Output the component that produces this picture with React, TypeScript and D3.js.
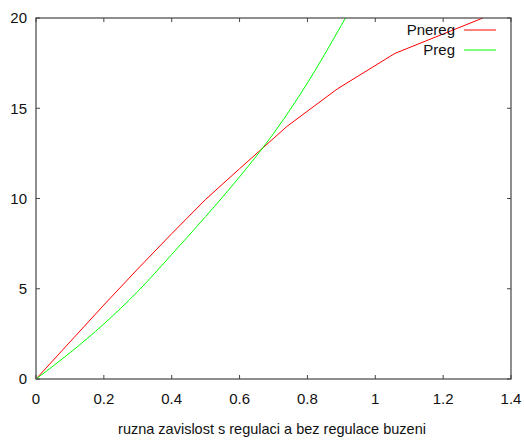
import React, { useEffect, useRef } from "react";
import * as d3 from "d3";

// Pnereg (bez regulace) - piecewise linear
const pneregX = [0, 0.1, 0.2, 0.3, 0.4, 0.5, 0.6, 0.74, 0.888, 1.058, 1.317];
const pneregY = [0, 2.05, 4.1, 6.1, 8.05, 9.95, 11.65, 14, 16.07, 18.04, 20];

// Preg (s regulaci) - smooth curve
const pregX = [0, 0.1, 0.2, 0.3, 0.4, 0.5, 0.6, 0.7, 0.8, 0.9, 0.93];
const pregY = [0, 1.45, 3.05, 4.85, 6.9, 9.0, 11.2, 13.6, 16.4, 19.6, 20.6];

const xTicks = [0, 0.2, 0.4, 0.6, 0.8, 1, 1.2, 1.4];
const yTicks = [0, 5, 10, 15, 20];

const seriesNames = ["Pnereg", "Preg"];
const seriesColors = ["#ff0000", "#00ff00"];

const xTitle = "ruzna zavislost s regulaci a bez regulace buzeni";

const App = () => {
  const svgRef = useRef<SVGSVGElement>(null);

  useEffect(() => {
    const svg = d3.select(svgRef.current);
    svg.selectAll("*").remove();

    const left = 36;
    const right = 511;
    const top = 18;
    const bottom = 379;
    const font = "'Liberation Sans', Arial, sans-serif";
    const axisColor = "#444";

    const x = d3.scaleLinear().domain([0, 1.4]).range([left, right]);
    const y = d3.scaleLinear().domain([0, 20]).range([bottom, top]);

    svg
      .append("defs")
      .append("clipPath")
      .attr("id", "plotclip")
      .append("rect")
      .attr("x", left)
      .attr("y", top)
      .attr("width", right - left)
      .attr("height", bottom - top);

    // ticks (inward, mirrored like gnuplot)
    const ticks = svg.append("g").attr("stroke", axisColor).attr("stroke-width", 1);
    xTicks.forEach((t) => {
      ticks.append("line").attr("x1", x(t)).attr("x2", x(t)).attr("y1", bottom).attr("y2", bottom - 4);
      ticks.append("line").attr("x1", x(t)).attr("x2", x(t)).attr("y1", top).attr("y2", top + 4);
    });
    yTicks.forEach((t) => {
      ticks.append("line").attr("x1", left).attr("x2", left + 4).attr("y1", y(t)).attr("y2", y(t));
      ticks.append("line").attr("x1", right).attr("x2", right - 4).attr("y1", y(t)).attr("y2", y(t));
    });

    // tick labels
    svg
      .append("g")
      .selectAll("text")
      .data(xTicks)
      .enter()
      .append("text")
      .attr("x", (d) => x(d))
      .attr("y", 399)
      .attr("dy", "0.35em")
      .attr("text-anchor", "middle")
      .attr("font-family", font)
      .attr("font-size", 15)
      .attr("fill", "#111")
      .text((d) => d3.format("~g")(d));

    svg
      .append("g")
      .selectAll("text")
      .data(yTicks)
      .enter()
      .append("text")
      .attr("x", 27)
      .attr("y", (d) => y(d))
      .attr("dy", "0.35em")
      .attr("text-anchor", "end")
      .attr("font-family", font)
      .attr("font-size", 15)
      .attr("fill", "#111")
      .text((d) => String(d));

    svg
      .append("text")
      .attr("x", 272)
      .attr("y", 429)
      .attr("dy", "0.35em")
      .attr("text-anchor", "middle")
      .attr("font-family", font)
      .attr("font-size", 14.5)
      .attr("fill", "#111")
      .text(xTitle);

    // lines
    const plot = svg.append("g").attr("clip-path", "url(#plotclip)");

    const pnereg = pneregX.map((v, i) => [v, pneregY[i]] as [number, number]);
    const preg = pregX.map((v, i) => [v, pregY[i]] as [number, number]);

    const linear = d3
      .line<[number, number]>()
      .x((d) => x(d[0]))
      .y((d) => y(d[1]));
    const smooth = d3
      .line<[number, number]>()
      .x((d) => x(d[0]))
      .y((d) => y(d[1]))
      .curve(d3.curveMonotoneX);

    plot
      .append("path")
      .attr("d", linear(pnereg))
      .attr("fill", "none")
      .attr("stroke", seriesColors[0])
      .attr("stroke-width", 1);

    plot
      .append("path")
      .attr("d", smooth(preg))
      .attr("fill", "none")
      .attr("stroke", seriesColors[1])
      .attr("stroke-width", 1);

    // legend
    const legend = svg.append("g");
    seriesNames.forEach((name, i) => {
      const ly = 30 + i * 20;
      legend
        .append("text")
        .attr("x", 455)
        .attr("y", ly)
        .attr("dy", "0.35em")
        .attr("text-anchor", "end")
        .attr("font-family", font)
        .attr("font-size", 15)
        .attr("fill", "#111")
        .text(name);
      legend
        .append("line")
        .attr("x1", 464)
        .attr("x2", 496)
        .attr("y1", ly)
        .attr("y2", ly)
        .attr("stroke", seriesColors[i])
        .attr("stroke-width", 1);
    });

    // frame
    svg
      .append("rect")
      .attr("x", left)
      .attr("y", top)
      .attr("width", right - left)
      .attr("height", bottom - top)
      .attr("fill", "none")
      .attr("stroke", axisColor)
      .attr("stroke-width", 1.2);
  }, []);

  return (
    <svg
      ref={svgRef}
      width={524}
      height={440}
      style={{ position: "absolute", left: 0, top: 0, background: "#fff" }}
    ></svg>
  );
};

export default App;
